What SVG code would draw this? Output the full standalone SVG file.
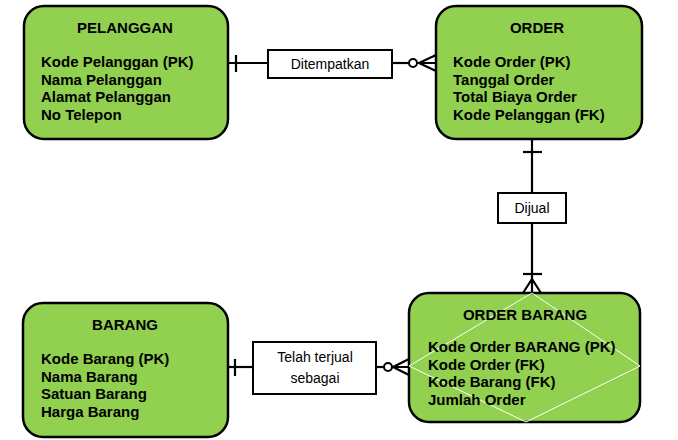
<svg xmlns="http://www.w3.org/2000/svg" width="678" height="440" viewBox="0 0 678 440">
<style>
.ent{fill:#92D050;stroke:#000;stroke-width:2.5}
.t{font-family:"Liberation Sans",Arial,sans-serif;font-weight:bold;font-size:15px;fill:#000}
.tc{text-anchor:middle}
.lbl{fill:#fff;stroke:#000;stroke-width:2}
.lt{font-family:"Liberation Sans",Arial,sans-serif;font-size:14px;fill:#000;text-anchor:middle}
.c{stroke:#000;stroke-width:2.2;fill:none}
</style>
<rect width="678" height="440" fill="#fff"/>
<g id="connectors">
  <!-- Ditempatkan -->
  <line class="c" x1="228" y1="63" x2="268" y2="63"/>
  <line class="c" x1="236" y1="55" x2="236" y2="72"/>
  <line class="c" x1="392" y1="63" x2="409" y2="63"/>
  <circle cx="413" cy="63" r="4" fill="#fff" stroke="#000" stroke-width="2"/>
  <path class="c" d="M436 55 L419 63 L436 71 M419 63 L436 63"/>
  <!-- Dijual -->
  <line class="c" x1="532" y1="139" x2="532" y2="193"/>
  <line class="c" x1="523" y1="152" x2="542" y2="152"/>
  <line class="c" x1="532" y1="223" x2="532" y2="293"/>
  <line class="c" x1="523" y1="274" x2="542" y2="274"/>
  <path class="c" d="M523 293 L532 279 L541 293"/>
  <!-- Telah terjual sebagai -->
  <line class="c" x1="228" y1="367" x2="253" y2="367"/>
  <line class="c" x1="235" y1="359" x2="235" y2="376"/>
  <line class="c" x1="376" y1="367" x2="384" y2="367"/>
  <circle cx="388" cy="367" r="4" fill="#fff" stroke="#000" stroke-width="2"/>
  <path class="c" d="M409 359 L393 367 L409 375 M393 367 L409 367"/>
  <g id="lbl-ditempatkan">
    <rect class="lbl" x="268" y="50" width="124" height="28"/>
    <text class="lt" x="330" y="69">Ditempatkan</text>
  </g>
  <g id="lbl-dijual">
    <rect class="lbl" x="498" y="193" width="68" height="30"/>
    <text class="lt" x="532" y="213">Dijual</text>
  </g>
  <g id="lbl-terjual">
    <rect class="lbl" x="253" y="342" width="123" height="52"/>
    <text class="lt" x="315" y="362">Telah terjual</text>
    <text class="lt" x="315" y="383">sebagai</text>
  </g>
</g>
<g id="pelanggan">
  <rect class="ent" x="24" y="6" width="204" height="133" rx="20"/>
  <text class="t tc" x="125" y="33">PELANGGAN</text>
  <text class="t" x="41" y="67">Kode Pelanggan (PK)</text>
  <text class="t" x="41" y="84.5">Nama Pelanggan</text>
  <text class="t" x="41" y="102">Alamat Pelanggan</text>
  <text class="t" x="41" y="119.5">No Telepon</text>
</g>
<g id="order">
  <rect class="ent" x="436" y="6" width="206" height="133" rx="20"/>
  <text class="t tc" x="537" y="33">ORDER</text>
  <text class="t" x="453" y="67">Kode Order (PK)</text>
  <text class="t" x="453" y="84.5">Tanggal Order</text>
  <text class="t" x="453" y="102">Total Biaya Order</text>
  <text class="t" x="453" y="119.5">Kode Pelanggan (FK)</text>
</g>
<g id="barang">
  <rect class="ent" x="23" y="303" width="205" height="134" rx="20"/>
  <text class="t tc" x="125" y="330">BARANG</text>
  <text class="t" x="41" y="364">Kode Barang (PK)</text>
  <text class="t" x="41" y="381.5">Nama Barang</text>
  <text class="t" x="41" y="399">Satuan Barang</text>
  <text class="t" x="41" y="416.5">Harga Barang</text>
</g>
<g id="order-barang">
  <rect class="ent" x="409" y="293" width="231" height="129" rx="20"/>
  <polygon points="532,293 640,366 526,422 409,366" fill="none" stroke="#fff" stroke-width="1"/>
  <text class="t tc" x="525" y="320">ORDER BARANG</text>
  <text class="t" x="428" y="352">Kode Order BARANG (PK)</text>
  <text class="t" x="428" y="370">Kode Order (FK)</text>
  <text class="t" x="428" y="387">Kode Barang (FK)</text>
  <text class="t" x="428" y="404.5">Jumlah Order</text>
</g>
</svg>
